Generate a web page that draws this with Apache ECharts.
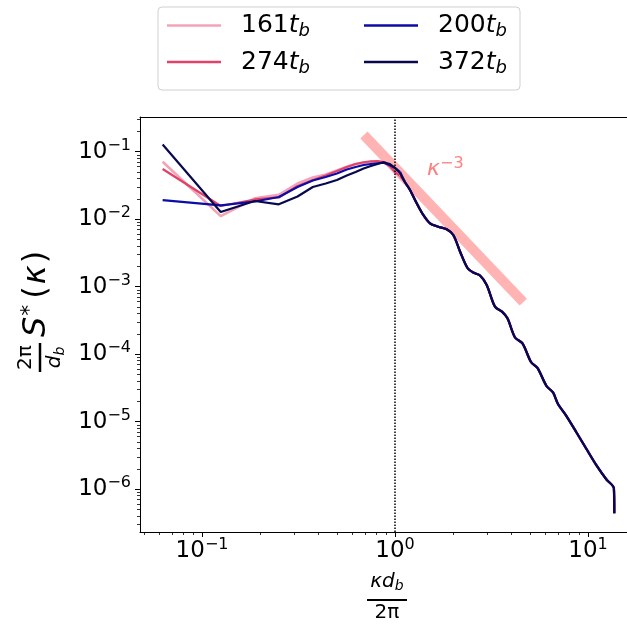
<!DOCTYPE html>
<html><head><meta charset="utf-8">
<script src="https://cdn.jsdelivr.net/npm/echarts@6/dist/echarts.min.js"></script>
<style>html,body{margin:0;padding:0;background:#fff}#c{width:627px;height:624px}</style>
</head><body><div id="c"></div>
<script>
// ---------- data ----------
const seriesNames = ['161', '274', '200', '372'];
const kLow = [0.0625, 0.125, 0.1875, 0.25, 0.3125, 0.375, 0.4375, 0.5, 0.5625, 0.625, 0.6875, 0.75, 0.8125, 0.875, 0.9375, 1.0, 1.0625];
const s161Low = [0.0711, 0.0111, 0.0204, 0.0229, 0.0338, 0.0415, 0.0459, 0.0526, 0.0600, 0.0657, 0.0687, 0.0704, 0.0711, 0.0692, 0.0625, 0.0536, 0.0452];
const s274Low = [0.0555, 0.0157, 0.0196, 0.0210, 0.0310, 0.0381, 0.0444, 0.0518, 0.0593, 0.0657, 0.0697, 0.0721, 0.0728, 0.0704, 0.0614, 0.0500, 0.0437];
const s200Low = [0.0192, 0.0160, 0.0183, 0.0213, 0.0300, 0.0374, 0.0421, 0.0475, 0.0545, 0.0593, 0.0635, 0.0657, 0.0674, 0.0687, 0.0635, 0.0574, 0.0500];
const s372Low = [0.128, 0.0128, 0.0186, 0.0166, 0.0217, 0.0300, 0.0338, 0.0381, 0.0444, 0.0500, 0.0564, 0.0614, 0.0657, 0.0697, 0.0657, 0.0574, 0.0483];
// shared high-wavenumber tail (all runs collapse)
const kTail = [1.125, 1.196, 1.296, 1.401, 1.518, 1.676, 1.853, 2.005, 2.172, 2.375, 2.545, 2.757, 2.987, 3.297, 3.585, 3.827, 4.186, 4.577, 5.067, 5.473, 6.095, 6.59, 6.99, 7.69, 8.72, 9.82, 11.07, 12.47, 13.625, 13.6875];
const sTail = [0.0356, 0.0271, 0.0172, 0.01155, 0.00869, 0.00774, 0.00708, 0.00583, 0.00332, 0.00189, 0.00162, 0.001465, 0.00106, 0.000506, 0.000427, 0.00034, 0.000177, 0.000145, 7.66e-5, 6.25e-5, 3.38e-5, 2.71e-5, 1.83e-5, 1.24e-5, 6.92e-6, 3.94e-6, 2.25e-6, 1.39e-6, 1.03e-6, 4.40e-7];
// kappa^-3 reference segment endpoints
const refX = [0.69, 4.62];
const refY = [0.177, 5.9e-4];
// ticks
const xMajorTicks = [0.1, 1, 10];
const yMajorTicks = [1e-6, 1e-5, 1e-4, 1e-3, 1e-2, 1e-1];
const xMinorTicks = [0.05, 0.06, 0.07, 0.08, 0.09, 0.2, 0.3, 0.4, 0.5, 0.6, 0.7, 0.8, 0.9, 2, 3, 4, 5, 6, 7, 8, 9];
const yMinorTicks = [];
[-7, -6, -5, -4, -3, -2, -1].forEach(function (e) {
  for (let m = 2; m <= 9; m++) yMinorTicks.push(+(m * Math.pow(10, e)).toPrecision(3));
});
const xMin = 0.0477, xMax = 15.93, yMin = 2.32e-7, yMax = 0.3266;

// ---------- styles ----------
const colors = { '161': '#f3a3b6', '274': '#e0426a', '200': '#0c0ca6', '372': '#08084e' };
const widths = { '161': 2.6, '274': 2.2, '200': 2.2, '372': 2.2 };
const FONT = 'DejaVu Sans';
const lowData = { '161': s161Low, '274': s274Low, '200': s200Low, '372': s372Low };

function pairs(xs, ys) { return xs.map(function (x, i) { return [x, ys[i]]; }); }
function supFmt(v) {
  const e = Math.round(Math.log10(v));
  return '{b|10}{e|' + (e < 0 ? '\u2212' + (-e) : e) + '}';
}
const supRich = {
  b: { fontSize: 23, fontFamily: FONT, color: '#000', lineHeight: 28 },
  e: { fontSize: 16, fontFamily: FONT, color: '#000', verticalAlign: 'top', lineHeight: 16 }
};

const series = [];
series.push({
  type: 'line', name: 'ref', data: pairs(refX, refY), symbol: 'none', silent: true,
  lineStyle: { color: '#ffb3b3', width: 10, cap: 'butt' }, z: 1,
  markPoint: {
    symbol: 'circle', symbolSize: 0, silent: true,
    data: [{ coord: [1.465, 0.0555] }],
    label: {
      show: true, position: 'right', distance: 0,
      formatter: '{k|\u03ba}{e|\u22123}',
      rich: {
        k: { fontSize: 22, fontStyle: 'italic', fontFamily: FONT, color: '#ff8080', lineHeight: 26 },
        e: { fontSize: 16, fontFamily: FONT, color: '#ff8080', verticalAlign: 'top', lineHeight: 16 }
      }
    }
  },
  markLine: {
    silent: true, symbol: ['none', 'none'], label: { show: false },
    lineStyle: { type: 'dotted', color: '#000', width: 1.5 },
    data: [{ xAxis: 1 }]
  }
});
seriesNames.forEach(function (n) {
  series.push({
    type: 'line', name: n, data: pairs(kLow, lowData[n]), symbol: 'none', z: 2,
    color: colors[n], lineStyle: { color: colors[n], width: widths[n] }
  });
});
seriesNames.forEach(function (n) {
  const low = lowData[n];
  const xs = [kLow[kLow.length - 1]].concat(kTail);
  const ys = [low[low.length - 1]].concat(sTail);
  series.push({
    type: 'line', name: n, data: pairs(xs, ys), symbol: 'none', z: 2, smooth: 0.3,
    color: colors[n], lineStyle: { color: colors[n], width: widths[n] }
  });
});

const legendRich = {
  n: { fontSize: 25, fontFamily: FONT, color: '#000', padding: [0, 0, 0, 15], lineHeight: 30 },
  t: { fontSize: 25, fontFamily: FONT, fontStyle: 'italic', color: '#000', lineHeight: 30 },
  s: { fontSize: 18, fontFamily: FONT, fontStyle: 'italic', color: '#000', verticalAlign: 'bottom', lineHeight: 17 }
};
function legendFmt(name) { return '{n|' + name + '}{t|t}{s|b}'; }
function mkLegend(data, left) {
  return {
    data: data, orient: 'vertical', left: left, top: 13, itemWidth: 54, itemHeight: 2.5, itemGap: 9,
    icon: 'rect', selectedMode: false, padding: 0,
    formatter: legendFmt, textStyle: { rich: legendRich }
  };
}

const axisLineStyle = { color: '#000', width: 1 };
const option = {
  animation: false,
  backgroundColor: '#fff',
  grid: { left: 140, right: 0, top: 117, bottom: 92, containLabel: false },
  legend: [mkLegend(['161', '274'], 167), mkLegend(['200', '372'], 364)],
  xAxis: [
    { type: 'log', min: xMin, max: xMax, position: 'bottom',
      axisLine: { show: true, onZero: false, lineStyle: axisLineStyle },
      axisTick: { show: true, customValues: xMajorTicks, length: 5, lineStyle: axisLineStyle },
      axisLabel: { customValues: xMajorTicks, formatter: supFmt, rich: supRich, margin: 5 },
      splitLine: { show: false } },
    { type: 'log', min: xMin, max: xMax, position: 'bottom',
      axisLine: { show: false, onZero: false },
      axisTick: { show: true, customValues: xMinorTicks, length: 3, lineStyle: { color: '#000', width: 0.8 } },
      axisLabel: { show: false }, splitLine: { show: false } },
    { type: 'log', min: xMin, max: xMax, position: 'top',
      axisLine: { show: true, onZero: false, lineStyle: axisLineStyle },
      axisTick: { show: false }, axisLabel: { show: false }, splitLine: { show: false } }
  ],
  yAxis: [
    { type: 'log', min: yMin, max: yMax, position: 'left',
      axisLine: { show: true, onZero: false, lineStyle: axisLineStyle },
      axisTick: { show: true, customValues: yMajorTicks, length: 5, lineStyle: axisLineStyle },
      axisLabel: { customValues: yMajorTicks, formatter: supFmt, rich: supRich, margin: 9 },
      splitLine: { show: false } },
    { type: 'log', min: yMin, max: yMax, position: 'left',
      axisLine: { show: false, onZero: false },
      axisTick: { show: true, customValues: yMinorTicks, length: 3, lineStyle: { color: '#000', width: 0.8 } },
      axisLabel: { show: false }, splitLine: { show: false } }
  ],
  series: series,
  graphic: [
    { type: 'rect', shape: { x: 158, y: 7, width: 362, height: 83, r: 4 },
      style: { fill: '#fff', stroke: '#d0d0d0', lineWidth: 1 }, z: 0 },
    // x-axis label: kappa d_b / 2 pi
    { type: 'group', x: 387, y: 0, children: [
      { type: 'text', x: 0, y: 582, style: { text: '{k|\u03bad}{s|b}', align: 'center', verticalAlign: 'middle',
        rich: { k: { fontSize: 20, fontStyle: 'italic', fontFamily: FONT, lineHeight: 22 },
                s: { fontSize: 14, fontStyle: 'italic', fontFamily: FONT, verticalAlign: 'bottom', lineHeight: 13 } } } },
      { type: 'line', shape: { x1: -20, y1: 600, x2: 20, y2: 600 }, style: { stroke: '#000', lineWidth: 2.2 } },
      { type: 'text', x: 0, y: 613, style: { text: '2\u03c0', align: 'center', verticalAlign: 'middle', fontSize: 20, fontFamily: FONT, fill: '#000' } }
    ] },
    // y-axis label: 2pi/d_b S*(kappa), rotated
    { type: 'group', x: 40, y: 306, rotation: Math.PI / 2, children: [
      { type: 'text', x: -51.5, y: -14, style: { text: '2\u03c0', align: 'center', verticalAlign: 'middle', fontSize: 20, fontFamily: FONT, fill: '#000' } },
      { type: 'line', shape: { x1: -66, y1: 0, x2: -37, y2: 0 }, style: { stroke: '#000', lineWidth: 2.5 } },
      { type: 'text', x: -51.5, y: 15, style: { text: '{d|d}{s|b}', align: 'center', verticalAlign: 'middle',
        rich: { d: { fontSize: 20, fontStyle: 'italic', fontFamily: FONT, lineHeight: 24 },
                s: { fontSize: 14, fontStyle: 'italic', fontFamily: FONT, verticalAlign: 'bottom', lineHeight: 14 } } } },
      { type: 'text', x: -31, y: -3, style: { text: '{S|S}{st|*}{p|(}{k|\u03ba}{p|)}', align: 'left', verticalAlign: 'middle',
        rich: { S: { fontSize: 32, fontStyle: 'italic', fontFamily: FONT, lineHeight: 36, padding: [0, 1, 0, 0] },
                st: { fontSize: 22, fontFamily: FONT, verticalAlign: 'top', lineHeight: 22, padding: [0, 4, 0, 0] },
                p: { fontSize: 32, fontFamily: FONT, lineHeight: 36, padding: [0, 2, 0, 2] },
                k: { fontSize: 32, fontStyle: 'italic', fontFamily: FONT, lineHeight: 36 } } } }
    ] }
  ]
};
const chart = echarts.init(document.getElementById('c'), null, { renderer: 'canvas' });
chart.setOption(option);
</script>
</body></html>
